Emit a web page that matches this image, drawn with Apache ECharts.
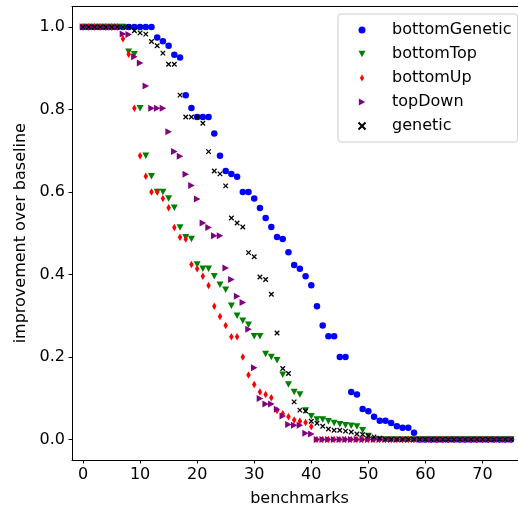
<!DOCTYPE html>
<html><head><meta charset="utf-8">
<script src="https://cdn.jsdelivr.net/npm/echarts@6/dist/echarts.min.js"></script>
<style>html,body{margin:0;padding:0;background:#fff;overflow:hidden}#c{width:518px;height:511px}</style>
</head><body><div id="c"></div>
<script>
const xTicks = [0, 10, 20, 30, 40, 50, 60, 70];
const yTicks = [0, 0.2, 0.4, 0.6, 0.8, 1.0];
const seriesNames = ['bottomGenetic', 'bottomTop', 'bottomUp', 'topDown', 'genetic'];

const bottomGenetic = [1,1,1,1,1,1,1,1,1,1,1,1,1,
  0.975,0.966,0.955,0.933,0.926,0.835,0.804,0.782,0.782,0.782,0.742,0.688,0.651,0.644,0.637,0.600,0.600,
  0.584,0.561,0.537,0.515,0.491,0.486,0.454,0.423,0.414,0.396,0.374,0.323,0.276,0.250,0.250,0.200,0.200,
  0.115,0.109,0.074,0.068,0.055,0.045,0.045,0.040,0.032,0.028,0.028,0.016,
  0,0,0,0,0,0,0,0,0,0,0,0,0,0,0,0,0];
const bottomTop = [1,1,1,1,1,1,1,1,
  0.940,0.934,0.803,0.688,0.638,0.600,0.600,0.584,0.562,0.514,0.490,0.486,0.424,0.414,0.414,0.396,0.375,
  0.363,0.324,0.300,0.288,0.278,0.250,0.250,0.207,0.200,0.192,0.157,0.133,0.115,0.109,0.070,0.056,0.048,
  0.048,0.044,0.040,0.037,0.034,0.033,0.031,0.022,0.008,
  0,0,0,0,0,0,0,0,0,0,0,0,0,0,0,0,0,0,0,0,0,0,0,0,0];
const bottomUp = [1,1,1,1,1,1,1,
  0.972,0.934,0.803,0.688,0.638,0.600,0.600,0.584,0.562,0.514,0.490,0.486,0.424,0.414,0.396,0.373,0.323,
  0.298,0.276,0.249,0.249,0.200,0.156,0.133,0.115,0.109,0.101,0.070,0.062,0.055,0.047,0.044,0.041,0.031,
  0,0,0,0,0,0,0,0,0,0,0,0,0,0,0,0,0,0,0,0,0,0,0,0,0,0,0,0,0,0,0,0,0,0,0];
const topDown = [1,1,1,1,1,1,1,
  0.983,0.982,0.928,0.913,0.857,0.803,0.803,0.803,0.746,0.698,0.687,0.643,0.616,0.583,0.525,0.514,0.494,
  0.494,0.416,0.388,0.347,0.332,0.267,0.174,0.099,0.086,0.086,0.073,0.057,0.036,0.034,0.034,0.015,0.013,
  0,0,0,0,0,0,0,0,0,0,0,0,0,0,0,0,0,0,0,0,0,0,0,0,0,0,0,0,0,0,0,0,0,0,0];
const genetic = [1,1,1,1,1,1,1,1,1,
  0.991,0.986,0.983,0.965,0.955,0.937,0.910,0.910,0.835,0.782,0.782,0.782,0.767,0.698,0.651,0.644,0.615,
  0.537,0.525,0.515,0.453,0.443,0.394,0.388,0.352,0.258,0.172,0.160,0.091,0.071,0.069,0.044,0.039,0.032,
  0.025,0.022,0.022,0.020,0.018,0.013,0.012,0.009,0.006,0.003,
  0,0,0,0,0,0,0,0,0,0,0,0,0,0,0,0,0,0,0,0,0,0,0];

const benchmarks = bottomGenetic.map((_, i) => i);
function pts(vals) { return vals.map((v, i) => [benchmarks[i], v]); }

const FONT = 'DejaVu Sans';
const FS = 16;
const X_MIN = -1.93, X_MAX = 77.8;
const chart = echarts.init(document.getElementById('c'), null, {renderer: 'canvas'});
const symX = 'path://M0,0L10,10M10,0L0,10';
const symDown = 'path://M0,0L10,0L5,9Z';
const symRight = 'path://M0,0L9,5L0,10Z';
const symThinDiamond = 'path://M3,0L6,5L3,10L0,5Z';

chart.setOption({
  animation: false,
  backgroundColor: '#ffffff',
  grid: {left: 72, top: 6.5, right: -9, bottom: 51, show: false, outerBoundsMode: 'none'},
  xAxis: [{
    type: 'value', min: X_MIN, max: X_MAX,
    name: 'benchmarks', nameLocation: 'middle', nameGap: 31,
    nameTextStyle: {fontFamily: FONT, fontSize: FS, color: '#000'},
    axisLine: {show: true, onZero: false, lineStyle: {color: '#000', width: 1}},
    axisTick: {show: true, length: 3.5, inside: false, customValues: xTicks, lineStyle: {color: '#000', width: 1}},
    axisLabel: {customValues: xTicks, margin: 7, fontFamily: FONT, fontSize: FS, color: '#000'},
    splitLine: {show: false}
  }, {
    type: 'value', min: X_MIN, max: X_MAX, position: 'top',
    axisLine: {show: true, onZero: false, lineStyle: {color: '#000', width: 1}},
    axisTick: {show: false}, axisLabel: {show: false}, splitLine: {show: false}
  }],
  yAxis: {
    type: 'value', min: -0.05, max: 1.05,
    name: 'improvement over baseline', nameLocation: 'middle', nameGap: 43,
    nameTextStyle: {fontFamily: FONT, fontSize: FS, color: '#000'},
    axisLine: {show: true, onZero: false, lineStyle: {color: '#000', width: 1}},
    axisTick: {show: true, length: 3.5, inside: false, customValues: yTicks, lineStyle: {color: '#000', width: 1}},
    axisLabel: {customValues: yTicks, margin: 7, fontFamily: FONT, fontSize: FS, color: '#000',
                formatter: v => v.toFixed(1)},
    splitLine: {show: false}
  },
  legend: {
    orient: 'vertical', left: 338, top: 14,
    itemWidth: 7, itemHeight: 7, itemGap: 6,
    padding: [7, 6, 7, 19.5],
    borderColor: '#cccccc', borderWidth: 1, borderRadius: 3,
    backgroundColor: 'rgba(255,255,255,0.8)',
    textStyle: {fontFamily: FONT, fontSize: FS, color: '#000', lineHeight: 18, padding: [0, 0, 0, 21.5]},
    data: seriesNames
  },
  series: [
    {name: 'bottomGenetic', type: 'scatter', data: pts(bottomGenetic), symbol: 'circle', symbolSize: 6.5,
     itemStyle: {color: '#0000ff', opacity: 1}},
    {name: 'bottomTop', type: 'scatter', data: pts(bottomTop), symbol: symDown, symbolSize: [7, 6.5],
     itemStyle: {color: '#008000', opacity: 1}},
    {name: 'bottomUp', type: 'scatter', data: pts(bottomUp), symbol: symThinDiamond, symbolSize: [4.5, 7.5],
     itemStyle: {color: '#ff0000', opacity: 1}},
    {name: 'topDown', type: 'scatter', data: pts(topDown), symbol: symRight, symbolSize: [6.5, 7],
     itemStyle: {color: '#800080', opacity: 1}},
    {name: 'genetic', type: 'scatter', data: pts(genetic), symbol: symX, symbolSize: 4.5,
     itemStyle: {color: '#000', borderColor: '#000', borderWidth: 1.3, opacity: 1}}
  ]
});
</script>
</body></html>
